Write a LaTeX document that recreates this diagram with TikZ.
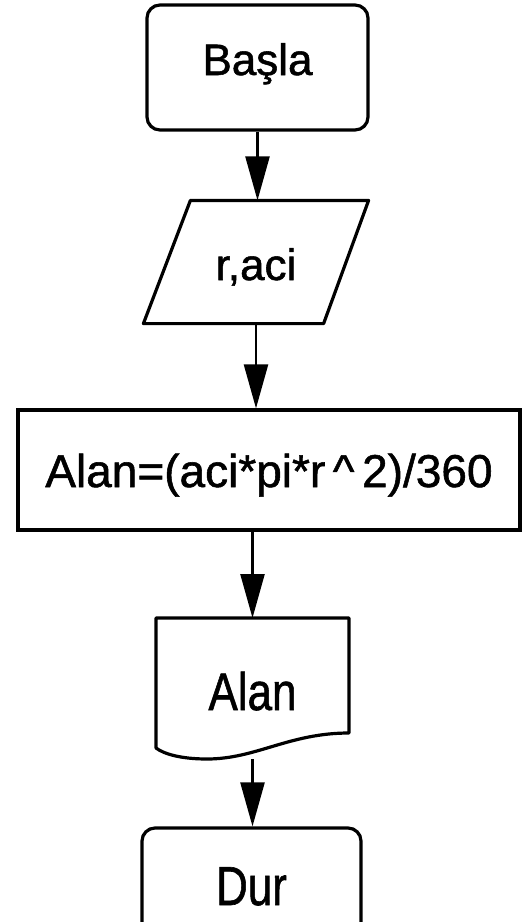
\documentclass[tikz,border=0pt]{standalone}
\usepackage{graphicx}
\usepackage{fontspec}
\setmainfont{Liberation Sans}[FakeBold=1.2]
\usetikzlibrary{arrows.meta,calc}

\begin{document}
\begin{tikzpicture}[x=1pt,y=-1pt,
  every node/.style={font=\fontsize{44}{52}\selectfont, inner sep=0pt},
  box/.style={draw, line width=3.2pt},
  terminal/.style={box, rounded corners=13pt},
  frame/.style={line width=3.2pt, line join=round},
  flow/.style={line width=2.4pt, -{Triangle[width=24pt,length=44pt]}}]
\useasboundingbox (0,0) rectangle (529,922);
\clip (0,0) rectangle (529,922);

% start terminal
\node[terminal, minimum width=221pt, minimum height=125pt,
      text height=32pt, text depth=17pt] (start) at (257.5,67.5) {Başla};

% input parallelogram
\node[minimum width=222pt, minimum height=120pt, outer sep=1.6pt,
      text height=36pt, text depth=0pt] (input) at (256,262) {r,aci};
\draw[frame] ([xshift=47pt]input.north west) -- (input.north east)
  -- ([xshift=-45pt]input.south east) -- (input.south west) -- cycle;

% process box
\node[box, minimum width=502pt, minimum height=120pt,
      font=\fontsize{46}{54}\selectfont,
      text height=34pt, text depth=0pt] (area) at (269,470)
  {Alan=(aci*pi*r\,\^{}\,2)/360};

% output document
\node[minimum width=193pt, minimum height=141pt, outer sep=0pt,
      text height=43pt, text depth=0pt] (out) at (252.5,688.5)
  {\scalebox{1}[1.2]{Alan}};
\draw[frame] (out.north west) -- (out.north east)
  -- ($(out.south east)+(0,-26)$)
  .. controls ($(out.south east)+(-60,-26)$) and ($(out.south west)+(100,0)$)
  .. ($(out.south west)+(51,0)$)
  .. controls ($(out.south west)+(25,0)$) and ($(out.south west)+(8,-5)$)
  .. ($(out.south west)+(0,-11)$) -- cycle;

% stop terminal
\node[terminal, minimum width=219pt, minimum height=114pt,
      text height=40pt, text depth=0pt] (stop) at (251.5,885)
  {\scalebox{1}[1.25]{Dur}};

% connectors
\draw[flow] (start.south) -- (start.south |- input.north);
\draw[flow] (input.south) -- (input.south |- area.north);
\draw[flow] (area.south -| out.north) -- (out.north);
\draw[flow] (out.south) -- (out.south |- stop.north);
\end{tikzpicture}
\end{document}
